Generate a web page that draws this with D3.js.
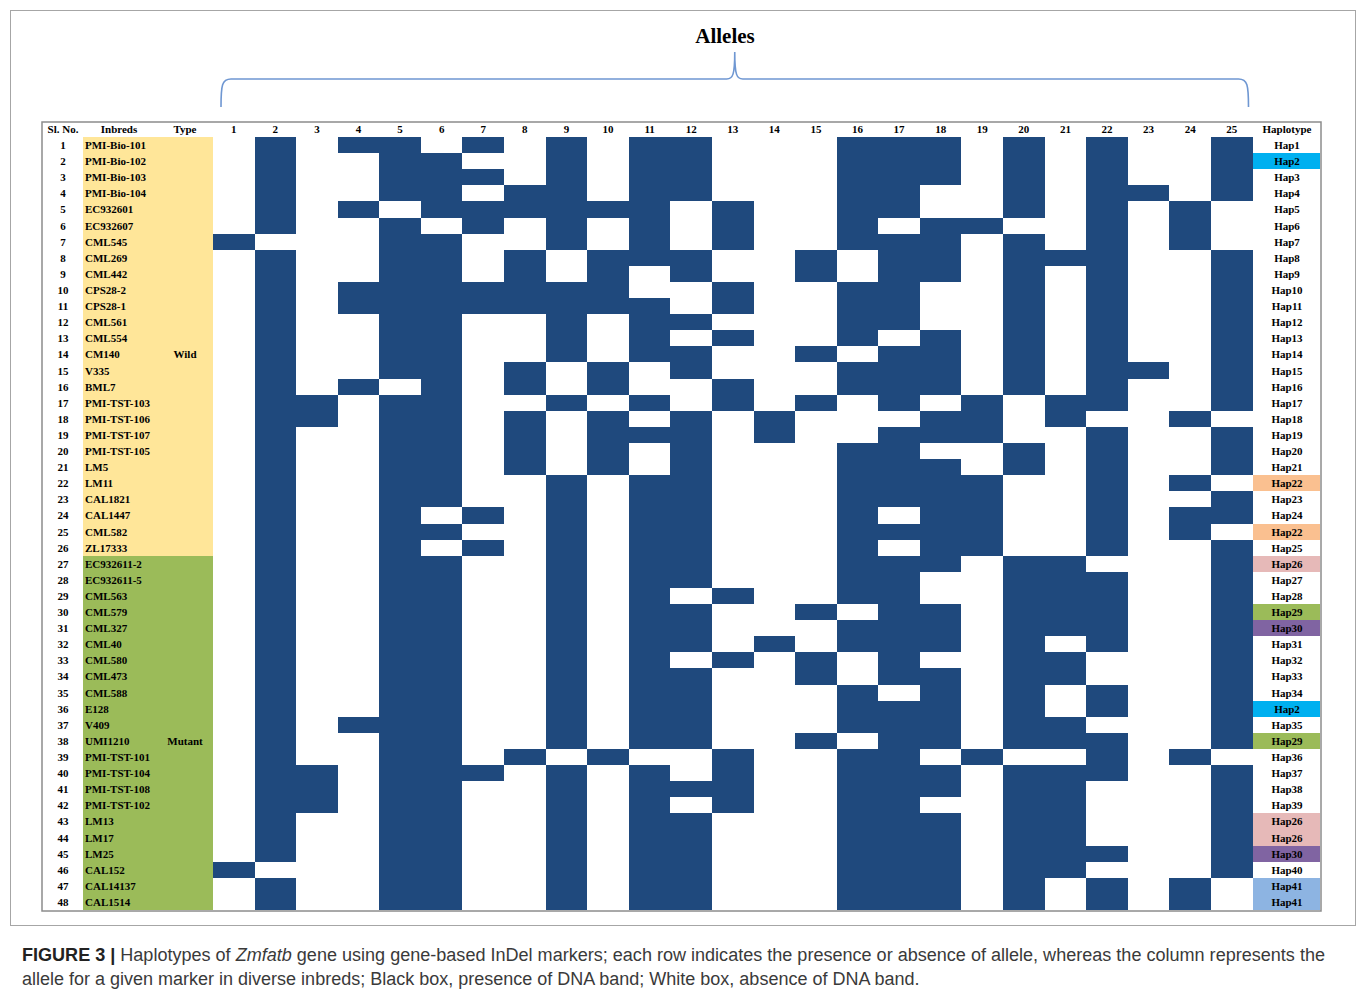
<!DOCTYPE html>
<html>
<head>
<meta charset="utf-8">
<script src="https://cdn.jsdelivr.net/npm/d3@7"></script>
<style>
  body { margin: 0; background: #fff; }
  svg text { font-family: "Liberation Serif", "Times New Roman", serif; }
  .caption text { font-family: "Liberation Sans", Arial, sans-serif; }
</style>
</head>
<body>
<div id="chart"></div>
<script>
// -----------------------------------------------------------------------
// Data
// -----------------------------------------------------------------------

const alleles = ["1","2","3","4","5","6","7","8","9","10","11","12","13",
  "14","15","16","17","18","19","20","21","22","23","24","25"];

const inbreds = [
  "PMI-Bio-101","PMI-Bio-102","PMI-Bio-103","PMI-Bio-104","EC932601","EC932607",
  "CML545","CML269","CML442","CPS28-2","CPS28-1","CML561","CML554","CM140",
  "V335","BML7","PMI-TST-103","PMI-TST-106","PMI-TST-107","PMI-TST-105","LM5",
  "LM11","CAL1821","CAL1447","CML582","ZL17333","EC932611-2","EC932611-5",
  "CML563","CML579","CML327","CML40","CML580","CML473","CML588","E128","V409",
  "UMI1210","PMI-TST-101","PMI-TST-104","PMI-TST-108","PMI-TST-102","LM13",
  "LM17","LM25","CAL152","CAL14137","CAL1514",
];

// Wild = rows 1-26, Mutant = rows 27-48
const types = "WWWWWWWWWWWWWWWWWWWWWWWWWW" + "MMMMMMMMMMMMMMMMMMMMMM";
const typeNames = { W: "Wild", M: "Mutant" };
const typeLabelRow = { W: 14, M: 38 };

const haplotypes = [
  "Hap1","Hap2","Hap3","Hap4","Hap5","Hap6","Hap7","Hap8","Hap9","Hap10",
  "Hap11","Hap12","Hap13","Hap14","Hap15","Hap16","Hap17","Hap18","Hap19",
  "Hap20","Hap21","Hap22","Hap23","Hap24","Hap22","Hap25","Hap26","Hap27",
  "Hap28","Hap29","Hap30","Hap31","Hap32","Hap33","Hap34","Hap2","Hap35",
  "Hap29","Hap36","Hap37","Hap38","Hap39","Hap26","Hap26","Hap30","Hap40",
  "Hap41","Hap41",
];

// 1 = presence of DNA band, 0 = absence; one string per inbred, alleles 1..25
const presence = [
  "01011 01010 11000 11101 01001",
  "01001 10010 11000 11101 01001",
  "01001 11010 11000 11101 01001",
  "01001 10110 11000 11001 01101",
  "01010 11111 10100 11001 01010",
  "01001 01010 10100 10110 01010",
  "10001 10010 10100 11101 01010",
  "01001 10101 11001 01101 11001",
  "01001 10101 01001 01101 01001",
  "01011 11111 00100 11001 01001",
  "01011 11111 10100 11001 01001",
  "01001 10010 11000 11001 01001",
  "01001 10010 10100 10101 01001",
  "01001 10010 11001 01101 01001",
  "01001 10101 01000 11101 01101",
  "01010 10101 00100 11101 01001",
  "01101 10010 10101 01010 11001",
  "01101 10101 01010 00110 10010",
  "01001 10101 11010 01110 01001",
  "01001 10101 01000 11001 01001",
  "01001 10101 01000 11101 01001",
  "01001 10010 11000 11110 01010",
  "01001 10010 11000 11110 01001",
  "01001 01010 11000 10110 01011",
  "01001 10010 11000 11110 01010",
  "01001 01010 11000 10110 01001",
  "01001 10010 11000 11101 10001",
  "01001 10010 11000 11001 11001",
  "01001 10010 10100 11001 11001",
  "01001 10010 11001 01101 11001",
  "01001 10010 11000 11101 11001",
  "01001 10010 11010 11101 01001",
  "01001 10010 10101 01001 10001",
  "01001 10010 11001 01101 10001",
  "01001 10010 11000 10101 01001",
  "01001 10010 11000 11101 01001",
  "01011 10010 11000 11101 10001",
  "01001 10010 11001 01101 11001",
  "01001 10101 00100 11010 01010",
  "01101 11010 10100 11101 11001",
  "01101 10010 11100 11101 10001",
  "01101 10010 10100 11001 10001",
  "01001 10010 11000 11101 10001",
  "01001 10010 11000 11101 10001",
  "01001 10010 11000 11101 11001",
  "10001 10010 11000 11101 10001",
  "01001 10010 11000 11101 01010",
  "01001 10010 11000 11101 01010",
];

// -----------------------------------------------------------------------
// Styles
// -----------------------------------------------------------------------

const BAND = "#1f497d";
const TYPE_FILL = { W: "#ffe699", M: "#9bbb59" };
const HAP_FILL = {
  Hap2: "#00b0f0", Hap22: "#fac090", Hap26: "#e6b9b8",
  Hap29: "#9bbb59", Hap30: "#8064a2", Hap41: "#8db4e2",
};

const W = 1358, H = 997;
const svg = d3.select("#chart").append("svg")
  .attr("width", W).attr("height", H);

// outer frame of the figure
svg.append("rect")
  .attr("x", 10.5).attr("y", 10.5).attr("width", 1345).attr("height", 915)
  .attr("fill", "none").attr("stroke", "#a6a6a6").attr("stroke-width", 1);

// -----------------------------------------------------------------------
// Scales
// -----------------------------------------------------------------------

const rows = inbreds.map((d, i) => i + 1);
const x = d3.scaleBand().domain(alleles).range([213, 1252.5]);
const y = d3.scaleBand().domain(rows).range([137, 910]);
const hapX0 = 1253, hapX1 = 1320;

// snap band edges to whole pixels so neighbouring cells meet without seams
const x0 = a => Math.round(x(a));
const x1 = a => Math.round(x(a) + x.bandwidth());
const y0 = r => Math.round(y(r));
const y1 = r => Math.round(y(r) + y.bandwidth());

// -----------------------------------------------------------------------
// Title + brace
// -----------------------------------------------------------------------

svg.append("text")
  .attr("x", 725).attr("y", 43)
  .attr("text-anchor", "middle")
  .style("font-size", "21px").style("font-weight", "bold")
  .text("Alleles");

const bx0 = x("1") + 8, bx1 = x("25") + x.bandwidth() - 4, bm = (bx0 + bx1) / 2;
const by = 79, bTop = 52, bBot = 107;
svg.append("path")
  .attr("d", `M${bx0},${bBot} C${bx0},${by + 6} ${bx0 + 1},${by} ${bx0 + 10},${by}
    L${bm - 8},${by} C${bm - 2},${by} ${bm},${by - 4} ${bm},${bTop}
    C${bm},${by - 4} ${bm + 2},${by} ${bm + 8},${by}
    L${bx1 - 10},${by} C${bx1 - 1},${by} ${bx1},${by + 6} ${bx1},${bBot}`)
  .attr("fill", "none").attr("stroke", "#6f97d2").attr("stroke-width", 1.6);

// -----------------------------------------------------------------------
// Table
// -----------------------------------------------------------------------

const table = svg.append("g").attr("shape-rendering", "crispEdges");

// type fill (yellow / green)
table.selectAll("rect.type")
  .data(rows)
  .join("rect")
  .attr("class", "type")
  .attr("x", 83).attr("width", 213 - 83)
  .attr("y", y0).attr("height", d => y1(d) - y0(d))
  .attr("fill", d => TYPE_FILL[types[d - 1]]);

// haplotype highlight
table.selectAll("rect.hap")
  .data(rows.filter(d => HAP_FILL[haplotypes[d - 1]]))
  .join("rect")
  .attr("class", "hap")
  .attr("x", hapX0).attr("width", hapX1 - hapX0)
  .attr("y", y0).attr("height", d => y1(d) - y0(d))
  .attr("fill", d => HAP_FILL[haplotypes[d - 1]]);

// allele cells
const cells = [];
presence.forEach((s, i) => {
  const bits = s.replace(/\s/g, "");
  alleles.forEach((a, j) => { if (bits[j] === "1") cells.push({ row: i + 1, allele: a }); });
});

table.selectAll("rect.cell")
  .data(cells)
  .join("rect")
  .attr("class", "cell")
  .attr("x", d => x0(d.allele)).attr("y", d => y0(d.row))
  .attr("width", d => x1(d.allele) - x0(d.allele))
  .attr("height", d => y1(d.row) - y0(d.row))
  .attr("fill", BAND);

// header
const header = svg.append("g")
  .style("font-size", "11px").style("font-weight", "bold");
const hy = 133;
header.append("text").attr("x", 63).attr("y", hy).attr("text-anchor", "middle").text("Sl. No.");
header.append("text").attr("x", 119).attr("y", hy).attr("text-anchor", "middle").text("Inbreds");
header.append("text").attr("x", 185).attr("y", hy).attr("text-anchor", "middle").text("Type");
header.selectAll("text.allele")
  .data(alleles)
  .join("text")
  .attr("class", "allele")
  .attr("x", d => x(d) + x.bandwidth() / 2).attr("y", hy)
  .attr("text-anchor", "middle")
  .text(d => d);
header.append("text").attr("x", 1287).attr("y", hy).attr("text-anchor", "middle").text("Haplotype");

// row labels
const labels = svg.append("g")
  .style("font-size", "11px").style("font-weight", "bold");
const ty = d => y(d) + y.bandwidth() / 2 + 4;

labels.selectAll("text.sl")
  .data(rows).join("text").attr("class", "sl")
  .attr("x", 63).attr("y", ty).attr("text-anchor", "middle")
  .text(d => d);

labels.selectAll("text.inbred")
  .data(rows).join("text").attr("class", "inbred")
  .attr("x", 85).attr("y", ty)
  .text(d => inbreds[d - 1]);

labels.selectAll("text.hapl")
  .data(rows).join("text").attr("class", "hapl")
  .attr("x", 1287).attr("y", ty).attr("text-anchor", "middle")
  .text(d => haplotypes[d - 1]);

// type names
labels.selectAll("text.type")
  .data(["W", "M"]).join("text").attr("class", "type")
  .attr("x", 185).attr("y", t => ty(typeLabelRow[t])).attr("text-anchor", "middle")
  .text(t => typeNames[t]);

// table frame
svg.append("rect")
  .attr("x", 42).attr("y", 122).attr("width", 1321 - 42).attr("height", 911 - 122)
  .attr("fill", "none").attr("stroke", "#8c8c8c").attr("stroke-width", 1.5);

// -----------------------------------------------------------------------
// Caption
// -----------------------------------------------------------------------

const cap = svg.append("g").attr("class", "caption")
  .style("font-size", "18px").attr("fill", "#3a3a3a");

const l1 = cap.append("text").attr("x", 22).attr("y", 961)
  .attr("textLength", 1303).attr("lengthAdjust", "spacingAndGlyphs");
l1.append("tspan").style("font-weight", "bold").attr("fill", "#222").text("FIGURE 3 |");
l1.append("tspan").text(" Haplotypes of ");
l1.append("tspan").style("font-style", "italic").text("Zmfatb");
l1.append("tspan").text(" gene using gene-based InDel markers; each row indicates the presence or absence of allele, whereas the column represents the");

cap.append("text").attr("x", 22).attr("y", 985)
  .text("allele for a given marker in diverse inbreds; Black box, presence of DNA band; White box, absence of DNA band.");
</script>
</body>
</html>
